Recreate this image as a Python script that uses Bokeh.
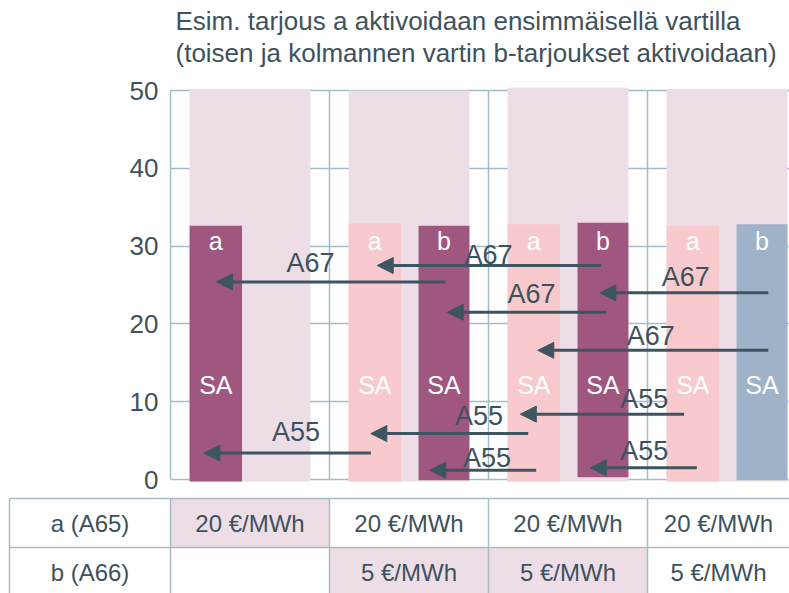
from bokeh.plotting import figure
from bokeh.models import Range1d, FixedTicker, ColumnDataSource, Arrow, NormalHead
from bokeh.layouts import column
from bokeh.embed import file_html
from bokeh.resources import INLINE
from bokeh.core.properties import value

# ---------------- data ----------------
title_lines = ["Esim. tarjous a aktivoidaan ensimmäisellä vartilla",
               "(toisen ja kolmannen vartin b-tarjoukset aktivoidaan)"]
quarters = [0, 1, 2, 3]
y_ticks = [0, 10, 20, 30, 40, 50]

capacity_top = [50.2, 50.0, 50.4, 50.2]
bar_a_value = [32.6, 32.9, 32.8, 32.6]
bar_b_value = [None, 32.6, 33.0, 32.8]
bar_a_base = [-0.25, -0.25, -0.25, -0.25]
bar_b_base = [None, -0.1, 0.3, -0.1]
bar_a_state = ["aktivoitu", "vapaa", "vapaa", "vapaa"]
bar_b_state = [None, "aktivoitu", "aktivoitu", "muu"]
bar_a_name = ["a", "a", "a", "a"]
bar_b_name = [None, "b", "b", "b"]
bar_inner_label = "SA"

arrow_label = ["A67", "A67", "A67", "A67", "A67", "A55", "A55", "A55", "A55", "A55"]
arrow_y = [25.4, 27.5, 21.5, 24.0, 16.6, 3.4, 5.9, 1.2, 8.4, 1.5]
arrow_from = [1.73, 2.71, 2.74, 3.76, 3.76, 1.26, 2.25, 2.30, 3.23, 3.31]
arrow_to = [0.29, 1.30, 1.74, 2.70, 2.31, 0.21, 1.26, 1.63, 2.20, 2.64]
label_x = [0.88, 2.00, 2.27, 3.24, 3.02, 0.79, 1.94, 1.99, 2.98, 2.98]
label_y = [27.8, 28.8, 23.9, 26.0, 18.4, 6.1, 8.2, 2.7, 10.4, 3.6]

row_labels = ["a (A65)", "b (A66)"]
price_a = ["20 €/MWh", "20 €/MWh", "20 €/MWh", "20 €/MWh"]
price_b = ["", "5 €/MWh", "5 €/MWh", "5 €/MWh"]
highlight_a = [True, False, False, False]
highlight_b = [False, True, True, False]

# ---------------- styles ----------------
FONT = value("Liberation Sans")
TXT = "#3E525C"
GRID = "#A3BCC7"
BG = "#EDDDE6"
ARROW = "#3D5560"
STATE_COLOR = {"aktivoitu": "#A0577F", "vapaa": "#F8CACD", "muu": "#9EB3C7"}
BG_L, BG_R = 0.12, 0.88
A_L, A_R = 0.12, 0.45
B_L, B_R = 0.56, 0.88
PX_PER_X = 159.0
X_END = 619 / PX_PER_X
W = 789
PX_PER_Y = 7.78          # pixels per value unit
TOP_H = 496              # chart figure height (frame spans the whole height)
ZERO_PX = 479            # pixel row of value 0

# ---------------- chart ----------------
y_lo = -(TOP_H - ZERO_PX) / PX_PER_Y
y_hi = ZERO_PX / PX_PER_Y
p = figure(width=W, height=TOP_H, x_range=Range1d(0, X_END), y_range=Range1d(y_lo, y_hi),
           output_backend="svg", toolbar_location=None, x_axis_type=None,
           min_border_left=170, min_border_right=0, min_border_top=0, min_border_bottom=0)
p.outline_line_color = None

ax = p.yaxis[0]
ax.ticker = FixedTicker(ticks=y_ticks)
ax.bounds = (0, 50)
ax.axis_line_color = GRID
ax.axis_line_width = 1.5
ax.major_tick_line_color = None
ax.minor_tick_line_color = None
ax.major_tick_out = 0
ax.major_tick_in = 0
ax.major_label_standoff = 12
ax.major_label_text_font = "Liberation Sans"
ax.major_label_text_font_size = "26px"
ax.major_label_text_color = TXT
p.ygrid.ticker = FixedTicker(ticks=y_ticks)
p.ygrid.grid_line_color = GRID
p.ygrid.grid_line_width = 1.5
p.xgrid.visible = False

# title (two lines, left aligned above the plot area)
p.text(x=[5 / PX_PER_X] * 2, y=[(ZERO_PX - 20) / PX_PER_Y, (ZERO_PX - 52) / PX_PER_Y],
       text=title_lines, text_font=FONT, text_font_size="26px", text_color=TXT,
       text_align="left", text_baseline="middle")

# vertical separators between quarters
p.segment(x0=quarters[1:], y0=0, x1=quarters[1:], y1=50, line_color=GRID, line_width=1.5)

# capacity background
p.quad(left=[q + BG_L for q in quarters], right=[q + BG_R for q in quarters],
       bottom=-0.25, top=capacity_top, fill_color=BG, line_color=None)

# bars a / b
p.quad(left=[q + A_L for q in quarters], right=[q + A_R for q in quarters],
       bottom=bar_a_base, top=bar_a_value,
       fill_color=[STATE_COLOR[s] for s in bar_a_state], line_color=None)
bq = [q for q, v in zip(quarters, bar_b_value) if v is not None]
bv = [v for v in bar_b_value if v is not None]
bb = [v for v in bar_b_base if v is not None]
bs = [s for s in bar_b_state if s is not None]
p.quad(left=[q + B_L for q in bq], right=[q + B_R for q in bq],
       bottom=bb, top=bv, fill_color=[STATE_COLOR[s] for s in bs], line_color=None)

# bar labels
ax_c = [q + (A_L + A_R) / 2 for q in quarters]
bx_c = [q + (B_L + B_R) / 2 for q in bq]
for xs, names in ((ax_c, bar_a_name), (bx_c, [n for n in bar_b_name if n])):
    p.text(x=xs, y=[30.6] * len(xs), text=names, text_font=FONT, text_font_size="25px",
           text_color="white", text_align="center", text_baseline="middle")
    p.text(x=xs, y=[12.2] * len(xs), text=[bar_inner_label] * len(xs), text_font=FONT,
           text_font_size="25px", text_color="white", text_align="center", text_baseline="middle")

# arrows
asrc = ColumnDataSource(dict(x0=arrow_from, x1=arrow_to, y=arrow_y))
p.add_layout(Arrow(x_start="x0", y_start="y", x_end="x1", y_end="y", source=asrc,
                   line_color=ARROW, line_width=3,
                   end=NormalHead(size=16, fill_color=ARROW, line_color=ARROW, line_width=1)))
p.text(x=label_x, y=label_y, text=arrow_label, text_font=FONT, text_font_size="27px",
       text_color=TXT, text_align="center", text_baseline="middle")

# ---------------- table ----------------
T_LEFT = -170 / PX_PER_X
ROW_PX = 49.0
TAB_H = 593 - TOP_H
t_hi = 2 + (498 - TOP_H) / ROW_PX
t_lo = t_hi - TAB_H / ROW_PX
t = figure(width=W, height=TAB_H, x_range=Range1d(T_LEFT, X_END), y_range=Range1d(t_lo, t_hi),
           output_backend="svg", toolbar_location=None, x_axis_type=None, y_axis_type=None,
           min_border=0)
t.outline_line_color = None
row_y = [1.5, 0.5]
hx = [q for q, h in zip(quarters, highlight_a) if h] + [q for q, h in zip(quarters, highlight_b) if h]
hy = [row_y[0] for h in highlight_a if h] + [row_y[1] for h in highlight_b if h]
t.quad(left=hx, right=[x + 1 for x in hx], bottom=[y - 0.5 for y in hy], top=[y + 0.5 for y in hy],
       fill_color=BG, line_color=None)
LINE_T = "#A9BCC5"
BORDER_L = -161 / PX_PER_X
t.segment(x0=BORDER_L, y0=[r + 0.5 for r in row_y], x1=X_END, y1=[r + 0.5 for r in row_y],
          line_color=LINE_T, line_width=1.5)
t.segment(x0=[BORDER_L] + quarters, y0=2, x1=[BORDER_L] + quarters, y1=t_lo, line_color=LINE_T,
          line_width=1.5)
t.text(x=[(BORDER_L + 0) / 2] * 2, y=row_y, text=row_labels, text_font=FONT, text_font_size="24px",
       text_color=TXT, text_align="center", text_baseline="middle")
col_c = [(q + min(q + 1, X_END)) / 2 for q in quarters]
t.text(x=col_c, y=[row_y[0]] * 4, text=price_a, text_font=FONT, text_font_size="24px",
       text_color=TXT, text_align="center", text_baseline="middle")
t.text(x=col_c, y=[row_y[1]] * 4, text=price_b, text_font=FONT, text_font_size="24px",
       text_color=TXT, text_align="center", text_baseline="middle")

layout = column(p, column(t))
open("out.html", "w").write(file_html(layout, INLINE))
